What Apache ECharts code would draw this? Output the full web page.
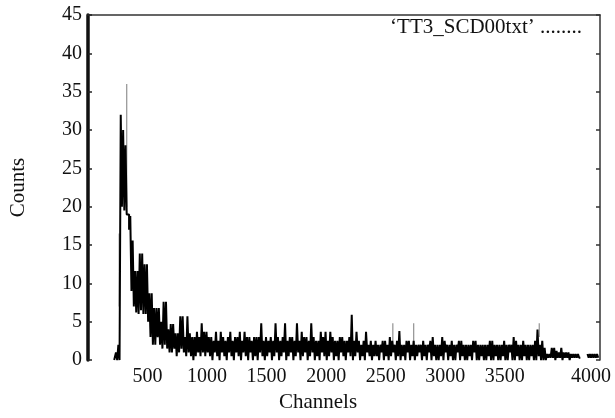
<!DOCTYPE html>
<html><head><meta charset="utf-8">
<script src="https://cdn.jsdelivr.net/npm/echarts@6/dist/echarts.min.js"></script>
<style>html,body{margin:0;padding:0;background:#fff}#c{width:615px;height:418px}</style>
</head><body><div id="c"></div>
<script>
// Histogram bins: first channel and bin width (channels)
const binStart = 220;
const binWidth = 20;

// Upper counts in each 20-channel bin
const highPeak = [
  0, 1, 2, 32, 30, 28, 19, 18.8, 15.6, 11.6,
  11.6, 13.9, 13.9, 12.5, 12.5, 8.7, 8.7, 6.8, 6.8, 6.8,
  5, 7.6, 7.6, 4, 4.7, 4.7, 3.5, 3.5, 5.7, 5.7,
  3, 5.7, 3.5, 3, 3, 3.7, 3, 4.8, 3.7, 3.7
];
const highMid = [
  3, 3, 2.5, 3.7, 2.5, 3.7, 3, 2.5, 3, 3.7,
  2.5, 3, 3, 3.7, 2.5, 3.7, 3, 3, 2.5, 3,
  3, 3, 4.8, 2.5, 3, 2.5, 3, 2.5, 4.8, 3,
  2.5, 3, 4.8, 2.5, 3, 3, 2.5, 4.8, 2.5, 3.7,
  3, 3, 2.5, 4.8, 3, 2.5, 2.5, 3.7, 3, 3.7,
  2.5, 3.7, 3, 2.5, 2.5, 3, 3, 2.5, 2.5, 3,
  5.9, 2.5, 3.7, 2.5, 2, 2.5, 3.7, 2, 2.5, 2
];
const highTail = [
  2.5, 2, 2, 2.5, 2.5, 2, 3, 2.5, 2, 2.5,
  3.8, 2, 2, 2.5, 2.5, 2, 2.5, 2, 2, 2,
  2.5, 2, 2, 2.5, 3, 2, 2, 2, 3, 2.5,
  2, 2, 2.5, 2, 2, 2.5, 2.5, 2, 2, 2,
  2, 2.5, 2.5, 2, 2, 2, 2, 2, 2.5, 2.5,
  2, 2, 2, 2, 2.5, 2, 2, 2, 3, 2.5,
  2, 2, 2.5, 2, 2, 2, 2, 2.5, 4, 2,
  2.5, 1.6, 0.8, 0.8, 1.6, 1.6, 1.2, 1, 1.6, 1,
  1, 1, 0.8, 0.8, 0.8, 0.8, null, null, null, 0.8,
  0.8, 0.8, 0.8, 0.8
];

// Lower counts in each 20-channel bin
const lowPeak = [
  0, 0, 0, 20, 19.5, 19, 17, 9, 7, 6.2,
  6, 6.5, 6, 6, 5, 3, 2, 2, 3, 2,
  1.5, 2, 1.5, 1, 1, 1.5, 0.5, 1, 1.5, 1,
  0.5, 1, 0.5, 0, 0.5, 1, 0.5, 1, 0.5, 1
];
const lowMid = [
  0.5, 0, 1, 0.5, 0, 1, 0.5, 0, 1, 0.5,
  0, 1, 0.5, 0, 1, 0.5, 0, 1, 0, 0.5,
  0, 1, 0.5, 0, 0.5, 1, 0, 0.5, 1, 0,
  0.5, 1, 0, 0.5, 1, 0, 0.5, 1, 0, 0.5,
  1, 0, 0.5, 1, 0, 0.5, 0, 1, 0.5, 0,
  0.5, 1, 0, 0.5, 0, 1, 0.5, 0, 1, 0.5,
  0, 0.5, 1, 0, 0.5, 0, 1, 0.5, 0, 0.5
];
const lowTail = [
  0.5, 0, 1, 0, 0.5, 0, 0.5, 1, 0, 0.5,
  0, 0.5, 0, 1, 0, 0.5, 0, 0.5, 1, 0,
  0.5, 0, 1, 0, 0.5, 0, 0, 0.5, 0, 1,
  0, 0.5, 0, 0, 1, 0, 0.5, 0, 0, 0.5,
  0, 1, 0, 0, 0.5, 0, 0, 0.5, 0, 0,
  0.5, 0, 0, 0.5, 0, 0, 1, 0, 0, 0.5,
  0, 0, 0.5, 0, 0, 0.5, 0, 0, 0.5, 0,
  0, 0, 0.3, 0.3, 0.3, 0, 0.3, 0.3, 0, 0.3,
  0.3, 0, 0.3, 0.3, 0.3, 0.3, null, null, null, 0.3,
  0.3, 0.3, 0.3, 0.3
];

// Faint (grey) single-channel spikes
const faintChannels = [262, 325, 2560, 2735, 3790];
const faintLow = [7, 20, 2, 2, 3];
const faintHigh = [16.5, 36, 4.8, 4.8, 4.8];

// Axis ticks
const xTickValues = [500, 1000, 1500, 2000, 2500, 3000, 3500, 4225];
const xTickLabels = ['500', '1000', '1500', '2000', '2500', '3000', '3500', '4000'];
const yMin = 0, yMax = 45, yStep = 5;
const xMin = 0, xMax = 4300;

const seriesName = '\u2018TT3_SCD00txt\u2019';

const highs = highPeak.concat(highMid, highTail);
const lows = lowPeak.concat(lowMid, lowTail);
const mainData = [];
highs.forEach((h, i) => {
  const ch = binStart + i * binWidth;
  mainData.push([ch, h]);
  mainData.push([ch + binWidth / 2, lows[i]]);
});
const faintData = faintChannels.map((c, i) => [c, faintLow[i], faintHigh[i]]);

const FONT = '"Liberation Serif", "Times New Roman", serif';

const chart = echarts.init(document.getElementById('c'), null, { renderer: 'canvas' });
chart.setOption({
  animation: false,
  backgroundColor: '#fff',
  grid: { left: 87, right: 15, top: 15, bottom: 46, containLabel: false },
  legend: {
    data: [seriesName],
    right: 28, top: 12,
    itemWidth: 0, itemHeight: 0, itemGap: 0,
    icon: 'rect',
    formatter: n => n + ' ........',
    textStyle: { fontFamily: FONT, fontSize: 21, color: '#111' }
  },
  xAxis: [
    {
      type: 'value', min: xMin, max: xMax, position: 'bottom',
      name: 'Channels', nameLocation: 'middle', nameGap: 27,
      nameTextStyle: { fontFamily: FONT, fontSize: 21, color: '#111', padding: [0, 52, 0, 0] },
      axisLine: { show: false },
      axisTick: { show: false },
      splitLine: { show: false },
      axisLabel: {
        customValues: xTickValues,
        formatter: v => { const k = xTickValues.indexOf(v); return k >= 0 ? xTickLabels[k] : ''; },
        fontFamily: FONT, fontSize: 20, color: '#111', margin: 7
      }
    },
    {
      type: 'value', min: xMin, max: xMax, position: 'top',
      axisLine: { show: true, onZero: false, lineStyle: { color: '#333', width: 1.5 } },
      axisTick: { show: false }, axisLabel: { show: false }, splitLine: { show: false }
    }
  ],
  yAxis: [
    {
      type: 'value', min: yMin, max: yMax, interval: yStep, position: 'left',
      name: 'Counts', nameLocation: 'middle', nameGap: 59, nameRotate: 90,
      nameTextStyle: { fontFamily: FONT, fontSize: 21, color: '#111' },
      axisLine: { show: true, onZero: false, lineStyle: { color: '#111', width: 3.5 } },
      axisTick: { show: true, inside: true, length: 4, lineStyle: { color: '#222', width: 1.5 } },
      axisLabel: { fontFamily: FONT, fontSize: 20, color: '#111', margin: 6 },
      splitLine: { show: false }
    },
    {
      type: 'value', min: yMin, max: yMax, interval: yStep, position: 'right',
      axisLine: { show: true, onZero: false, lineStyle: { color: '#333', width: 1.5 } },
      axisTick: { show: true, inside: true, length: 4, lineStyle: { color: '#333', width: 1.5 } },
      axisLabel: { show: false }, splitLine: { show: false }
    }
  ],
  series: [
    {
      name: 'faint', type: 'custom', xAxisIndex: 0, yAxisIndex: 0,
      data: faintData, silent: true,
      renderItem: (params, api) => {
        const p1 = api.coord([api.value(0), api.value(1)]);
        const p2 = api.coord([api.value(0), api.value(2)]);
        return { type: 'line', shape: { x1: p1[0], y1: p1[1], x2: p2[0], y2: p2[1] },
                 style: { stroke: '#9a9a9a', lineWidth: 1.3 } };
      }
    },
    {
      name: seriesName, type: 'line', step: 'middle', xAxisIndex: 0, yAxisIndex: 0,
      data: mainData, showSymbol: false, symbol: 'none', connectNulls: false,
      sampling: null,
      lineStyle: { color: '#000', width: 2 },
      itemStyle: { color: '#000' }
    }
  ]
});
</script>
</body></html>
